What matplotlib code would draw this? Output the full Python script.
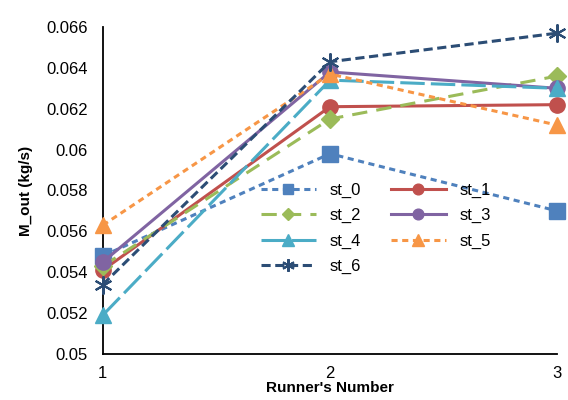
import matplotlib
matplotlib.use("Agg")
import matplotlib.pyplot as plt

plt.rcParams['font.family'] = ['Liberation Sans', 'DejaVu Sans']

runners = [1, 2, 3]
st_0 = [0.0548, 0.0598, 0.0570]
st_1 = [0.0541, 0.0621, 0.0622]
st_2 = [0.0543, 0.0615, 0.0636]
st_3 = [0.0545, 0.0638, 0.0630]
st_4 = [0.0519, 0.0634, 0.0630]
st_5 = [0.0563, 0.0637, 0.0612]
st_6 = [0.0534, 0.0643, 0.0657]
yticks = [0.05, 0.052, 0.054, 0.056, 0.058, 0.06, 0.062, 0.064, 0.066]
ytick_labels = ['0.05', '0.052', '0.054', '0.056', '0.058', '0.06', '0.062', '0.064', '0.066']

fig = plt.figure(figsize=(5.68, 4), dpi=100)
ax = fig.add_axes([0.181, 0.115, 0.8, 0.8175])

lw = 2.2
h0, = ax.plot(runners, st_0, color='#4F81BD', lw=lw, ls=(0, (2, 1.5)), marker='s', ms=11, label='st_0')
h1, = ax.plot(runners, st_1, color='#C0504D', lw=lw, ls='-', marker='o', ms=11, label='st_1')
h2, = ax.plot(runners, st_2, color='#9BBB59', lw=lw, ls=(0, (5, 3)), marker='D', ms=9, label='st_2')
h3, = ax.plot(runners, st_3, color='#8064A2', lw=lw, ls='-', marker='o', ms=11, label='st_3')
h4, = ax.plot(runners, st_4, color='#4BACC6', lw=lw, ls=(0, (8, 2)), marker='^', ms=12, label='st_4')
h5, = ax.plot(runners, st_5, color='#F79646', lw=lw, ls=(0, (2, 1.5)), marker='^', ms=12, label='st_5')
h6, = ax.plot(runners, st_6, color='#2C4D75', lw=lw, ls=(0, (3, 1.5)), marker=(6, 2, 0), ms=13, mew=1.5, label='st_6')
for h in [h0, h1, h2, h3, h4, h5, h6]:
    h.set_clip_on(False)

ax.set_xlim(1, 3)
ax.set_ylim(0.05, 0.066)
ax.set_xticks(runners)
ax.set_xticklabels(['1', '2', '3'], fontsize=12)
ax.set_yticks(yticks)
ax.set_yticklabels(ytick_labels, fontsize=12)
ax.tick_params(axis='y', length=0, pad=11)
ax.tick_params(axis='x', length=0, pad=9)
ax.spines['top'].set_visible(False)
ax.spines['right'].set_visible(False)
ax.spines['left'].set_linewidth(1.3)
ax.spines['bottom'].set_linewidth(1.3)
for s in ['left', 'bottom']:
    ax.spines[s].set_zorder(0)

ax.set_xlabel("Runner's Number", fontsize=11, fontweight='bold', labelpad=0)
ax.set_ylabel("M_out (kg/s)", fontsize=11, fontweight='bold', labelpad=9)

ax.legend([h0, h2, h4, h6, h1, h3, h5], ['st_0', 'st_2', 'st_4', 'st_6', 'st_1', 'st_3', 'st_5'],
          ncol=2, frameon=False, fontsize=12, loc='upper left', bbox_to_anchor=(0.315, 0.57),
          handlelength=3.3, labelspacing=0.62, columnspacing=1.8, markerscale=0.7)

fig.savefig('out.png', dpi=100)
